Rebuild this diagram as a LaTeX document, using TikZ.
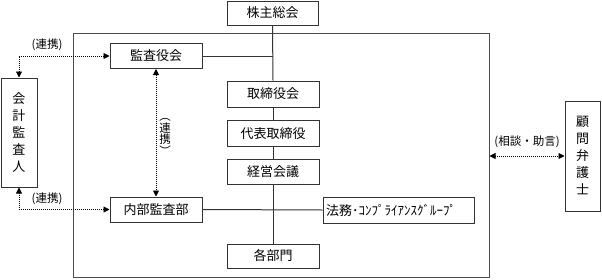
\documentclass[tikz,border=0pt]{standalone}
\usepackage{fontspec}
\setmainfont{Noto Sans CJK JP}
\usetikzlibrary{arrows.meta,shadows}
\begin{document}
\begin{tikzpicture}[x=1pt,y=-1pt,
  box/.style={draw=black!80, line width=1pt, fill=white, inner sep=0pt,
    font=\fontsize{13}{15}\selectfont,
    drop shadow={shadow xshift=0.8pt,shadow yshift=-0.8pt,fill=black!40,opacity=1}},
  vbox/.style={box, align=center, font=\fontsize{13}{17}\selectfont},
  lbl/.style={inner sep=0pt, font=\fontsize{11.5}{13}\selectfont},
  solid line/.style={draw=black!80, line width=1pt},
  dotarrow/.style={draw=black, line width=0.9pt, dash pattern=on 1pt off 1pt,
    {Triangle[length=6pt,width=6pt]}-{Triangle[length=6pt,width=6pt]}}
]
\useasboundingbox (0,0) rectangle (602,279);
% big frame
\node[draw=black!70, line width=1pt, minimum width=416pt, minimum height=244pt, inner sep=0pt] (frame) at (281,155) {};
% boxes
\node[box, minimum width=91pt, minimum height=24pt] (kabu) at (272.5,13) {株主総会};
\node[box, minimum width=92pt, minimum height=25pt] (kansa) at (156,56) {監査役会};
\node[box, minimum width=92pt, minimum height=26pt] (tori) at (273,94) {取締役会};
\node[box, minimum width=92pt, minimum height=26pt] (daihyo) at (273,133.5) {代表取締役};
\node[box, minimum width=92pt, minimum height=25pt] (keiei) at (273,171.5) {経営会議};
\node[box, minimum width=92pt, minimum height=25pt] (naibu) at (156,209.5) {内部監査部};
\node[box, minimum width=92pt, minimum height=24pt] (kakubu) at (273,256) {各部門};
\node[box, minimum width=151pt, minimum height=26pt, text width=145pt, align=left] (houmu) at (398.5,210) {法務･ｺﾝﾌﾟﾗｲｱﾝｽｸﾞﾙｰﾌﾟ};
\node[vbox, minimum width=36pt, minimum height=109pt] (kaikei) at (19,132.5) {会\\計\\監\\査\\人};
\node[vbox, minimum width=35pt, minimum height=110pt] (komon) at (582.5,156) {顧\\問\\弁\\護\\士};
% solid connectors
\draw[solid line] (kabu.south) -- (tori.north);
\draw[solid line] (tori.south) -- (daihyo.north);
\draw[solid line] (daihyo.south) -- (keiei.north);
\draw[solid line] (keiei.south) -- (kakubu.north);
\draw[solid line] (kansa.east) -- (kansa.east -| kabu.south);
\draw[solid line] (naibu.east) -- (houmu.west);
% dotted arrows
\draw[dotarrow] (kaikei.north) |- (kansa.west);
\draw[dotarrow] (kaikei.south) |- (naibu.west);
\draw[dotarrow] (kansa.south) -- (naibu.north);
\coordinate (fr) at (frame.east |- komon.west);
\draw[dotarrow] (fr) -- (komon.west);
% labels
\node[lbl] (l1) at (47,45) {(連携)};
\node[lbl] (l2) at (47,199) {(連携)};
\node[lbl] (l3) at (527,142) {(相談・助言)};
\node[lbl, align=center, font=\fontsize{11.5}{11.5}\selectfont] (l4) at (165,137) {︵\\連\\携\\︶};
\end{tikzpicture}
\end{document}
